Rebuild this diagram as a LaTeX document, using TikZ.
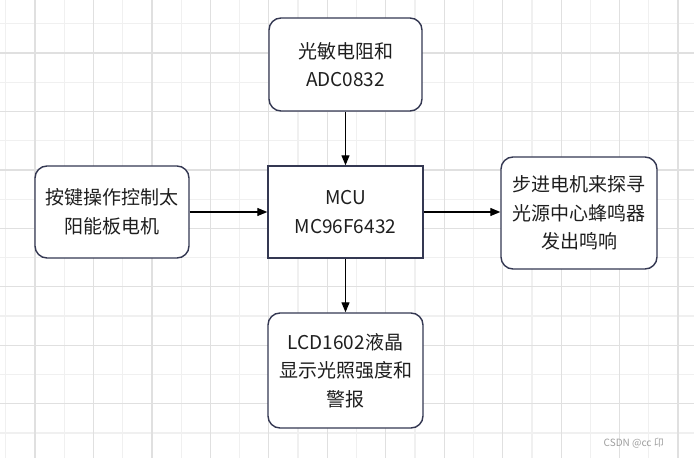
\documentclass[tikz,border=0pt]{standalone}
\usepackage{fontspec}
\setmainfont{Noto Sans CJK SC}
\usetikzlibrary{arrows.meta}
\definecolor{gridmajor}{RGB}{224,224,224}
\definecolor{gridminor}{RGB}{240,240,240}
\definecolor{boxedge}{RGB}{52,56,82}
\definecolor{inktext}{RGB}{30,30,30}
\begin{document}
\begin{tikzpicture}[x=1bp,y=-1bp,
  block/.style={draw=boxedge, line width=1.4bp, fill=white, align=center,
    text=inktext, inner sep=0pt,
    font=\fontsize{19bp}{28.5bp}\selectfont},
  roundblock/.style={block, rounded corners=12bp},
  flow/.style={line width=1.2bp, black, -{Triangle[length=10bp,width=8bp]}}]
\useasboundingbox (0,0) rectangle (694,458);
\fill[white] (0,0) rectangle (694,458);
% background grid: alternating strong and faint lines
\foreach \k in {-1,1,...,21} \draw[gridminor, line width=1.2bp] (35+29.23*\k,0) -- (35+29.23*\k,458);
\foreach \k in {-1,1,...,13} \draw[gridminor, line width=1.2bp] (0,53+29.23*\k) -- (694,53+29.23*\k);
\foreach \k in {0,2,...,22} \draw[gridmajor, line width=1.2bp] (35+29.23*\k,0) -- (35+29.23*\k,458);
\foreach \k in {0,2,...,12} \draw[gridmajor, line width=1.2bp] (0,53+29.23*\k) -- (694,53+29.23*\k);
% blocks
\node[roundblock, minimum width=153bp, minimum height=93bp] (sensor) at (345.5,64.5) {光敏电阻和\\ADC0832};
\node[roundblock, minimum width=154bp, minimum height=92bp] (keys) at (112,212) {按键操作控制太\\阳能板电机};
\node[block, minimum width=155bp, minimum height=92bp] (mcu) at (345.5,212) {MCU\\MC96F6432};
\node[roundblock, minimum width=156bp, minimum height=112bp] (motor) at (579,213) {步进电机来探寻\\光源中心蜂鸣器\\发出鸣响};
\node[roundblock, minimum width=155bp, minimum height=115bp] (lcd) at (345.5,370.5) {LCD1602液晶\\显示光照强度和\\警报};
% connections
\draw[flow] (sensor) -- (mcu);
\draw[flow] (keys.east) -- (mcu.west);
\draw[flow] (mcu.east) -- (motor.west |- mcu.east);
\draw[flow] (mcu) -- (lcd);
% watermark
\node[anchor=east, text=gray!75, font=\fontsize{10bp}{12bp}\selectfont, inner sep=0pt] (mark) at (664,443) {CSDN @cc 卬};
\end{tikzpicture}
\end{document}
